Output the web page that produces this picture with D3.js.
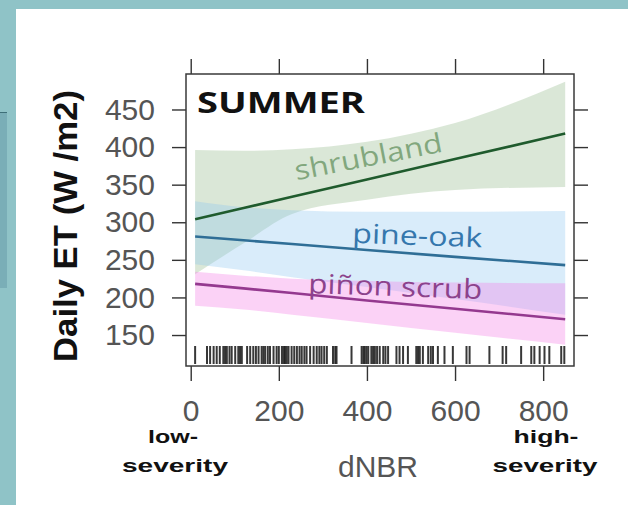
<!DOCTYPE html>
<html>
<head>
<meta charset="utf-8">
<script src="https://cdn.jsdelivr.net/npm/d3@7"></script>
<style>
  html, body { margin: 0; padding: 0; background: #8fc3c7; }
  svg { display: block; }
</style>
</head>
<body>
<svg id="chart" width="628" height="505"></svg>
<script>
// ---- data -------------------------------------------------------------
const seriesNames = ["shrubland", "pine-oak", "piñon scrub"];
const dnbrGrid    = [10, 120, 230, 400, 600, 850];

const shrubFit    = [304, 319, 334, 357, 384, 418];
const shrubUpper  = [396, 395, 397, 407, 432, 487];
const shrubLower  = [231, 272, 311, 330, 343, 347];

const pineFit     = [281, 276, 271, 263, 254, 243];
const pineUpper   = [328, 320, 316, 314, 314, 315];
const pineLower   = [244, 236, 227, 214, 198, 177];

const pinonFit    = [218, 212, 206, 196, 185, 171];
const pinonUpper  = [234, 229, 225, 222, 220, 219];
const pinonLower  = [189, 184, 177, 166, 153, 137];

const yTicks = [150, 200, 250, 300, 350, 400, 450];
const xTicks = [0, 200, 400, 600, 800];

// burn plots along the dNBR gradient (rug)
const rugValues = [10, 37, 44, 52, 59, 66, 74, 78, 82, 88, 93, 101, 108, 112, 116, 128, 135, 142,
  148, 154, 161, 165, 169, 175, 180, 188, 195, 200, 207, 211, 214, 218, 222, 229, 235, 241,
  247, 252, 258, 263, 271, 279, 286, 292, 297, 303, 309, 323, 328, 331, 365,
  388, 392, 395, 399, 403, 410, 414, 418, 423, 429, 437, 442, 448, 467, 474, 482, 493,
  512, 516, 520, 527, 539, 545, 550, 561, 576, 595, 626, 633, 678, 708, 716, 750,
  773, 780, 792, 803, 814, 841, 848];

// ---- layout -----------------------------------------------------------
const svg = d3.select("#chart");
const box = { left: 186, right: 574, top: 74, bottom: 366 };

// page backdrop
svg.append("rect").attr("width", 628).attr("height", 505).attr("fill", "#8fc3c7");
svg.append("rect").attr("x", 0).attr("y", 112).attr("width", 7).attr("height", 176).attr("fill", "#7aaeb7");
svg.append("line").attr("x1", 0).attr("x2", 7).attr("y1", 112.5).attr("y2", 112.5)
  .attr("stroke", "#3e6f78").attr("stroke-width", 1);
svg.append("rect").attr("x", 16).attr("y", 9).attr("width", 612).attr("height", 496).attr("fill", "#ffffff");

const x = d3.scaleLinear().domain([-10.7, 870]).range([box.left, box.right]);
const y = d3.scaleLinear().domain([108.8, 497.2]).range([box.bottom, box.top]);

svg.append("clipPath").attr("id", "plotClip")
  .append("rect").attr("x", box.left).attr("y", box.top)
  .attr("width", box.right - box.left).attr("height", box.bottom - box.top);

const plot = svg.append("g").attr("clip-path", "url(#plotClip)");

const series = [
  { name: seriesNames[0], fit: shrubFit, lo: shrubLower, hi: shrubUpper,
    band: "#9fbf96", op: 0.38, line: "#1f5b2d" },
  { name: seriesNames[1], fit: pineFit, lo: pineLower, hi: pineUpper,
    band: "#8cc6f0", op: 0.33, line: "#2f6e96" },
  { name: seriesNames[2], fit: pinonFit, lo: pinonLower, hi: pinonUpper,
    band: "#f27be6", op: 0.34, line: "#94398f" }
];

const area = d3.area().curve(d3.curveMonotoneX)
  .x(d => x(d.x)).y0(d => y(d.lo)).y1(d => y(d.hi));
const line = d3.line().x(d => x(d.x)).y(d => y(d.v));

// confidence bands
series.forEach(s => {
  const pts = dnbrGrid.map((v, i) => ({ x: v, lo: s.lo[i], hi: s.hi[i] }));
  plot.append("path").datum(pts).attr("d", area)
    .attr("fill", s.band).attr("fill-opacity", s.op);
});

// fitted lines
series.forEach(s => {
  const pts = dnbrGrid.map((v, i) => ({ x: v, v: s.fit[i] }));
  plot.append("path").datum(pts).attr("d", line)
    .attr("fill", "none").attr("stroke", s.line).attr("stroke-width", 2.6);
});

// rug
plot.selectAll("line.rug").data(rugValues).join("line").attr("class", "rug")
  .attr("x1", d => x(d)).attr("x2", d => x(d))
  .attr("y1", 346).attr("y2", 364)
  .attr("stroke", "#151515").attr("stroke-width", 2).attr("stroke-opacity", 0.85);

// ---- axes -------------------------------------------------------------
function styleAxis(g) {
  g.select(".domain").remove();
  g.selectAll(".tick line").attr("stroke", "#333").attr("stroke-width", 1.4);
  g.selectAll(".tick text").attr("fill", "#555")
    .style("font-family", "'Liberation Sans', Arial, sans-serif").style("font-size", "30px");
}

svg.append("g").attr("transform", `translate(${box.left},0)`)
  .call(d3.axisLeft(y).tickValues(yTicks).tickSize(14).tickPadding(17))
  .call(styleAxis);
svg.append("g").attr("transform", `translate(${box.right},0)`)
  .call(d3.axisRight(y).tickValues(yTicks).tickSize(14).tickFormat(""))
  .call(styleAxis);
svg.append("g").attr("transform", `translate(0,${box.bottom})`)
  .call(d3.axisBottom(x).tickValues(xTicks).tickSize(15).tickPadding(19))
  .call(styleAxis);
svg.append("g").attr("transform", `translate(0,${box.top})`)
  .call(d3.axisTop(x).tickValues(xTicks).tickSize(15).tickFormat(""))
  .call(styleAxis);

svg.append("rect").attr("x", box.left).attr("y", box.top)
  .attr("width", box.right - box.left).attr("height", box.bottom - box.top)
  .attr("fill", "none").attr("stroke", "#3a3a3a").attr("stroke-width", 1.5);

// ---- text -------------------------------------------------------------
function label(txt, px, py, opts) {
  const t = svg.append("text").text(txt)
    .attr("x", px).attr("y", py)
    .attr("text-anchor", opts.anchor || "middle")
    .attr("fill", opts.fill || "#111")
    .style("font-family", opts.family || "'Liberation Sans', Arial, sans-serif")
    .style("font-size", opts.size + "px")
    .style("font-weight", opts.weight || "normal");
  if (opts.len) t.attr("textLength", opts.len).attr("lengthAdjust", "spacingAndGlyphs");
  if (opts.rotate) t.attr("transform", `rotate(${opts.rotate},${px},${py})`);
  return t;
}

label("SUMMER", 197, 113, { anchor: "start", size: 29, weight: 700,
  family: "'Open Sans', sans-serif", len: 168, fill: "#111" });

label(seriesNames[0], 370, 166, { size: 27, family: "'Open Sans', sans-serif",
  fill: "#82a77e", len: 150, rotate: -11 });
label(seriesNames[1], 417, 245, { size: 27, family: "'Open Sans', sans-serif",
  fill: "#3577ad", len: 130, rotate: 2 });
label(seriesNames[2], 395, 296, { size: 27, family: "'Open Sans', sans-serif",
  fill: "#8c428c", len: 174, rotate: 2 });

label("Daily ET (W /m2)", 77, 226, { size: 33, weight: 700, fill: "#111",
  len: 272, rotate: -90 });

label("dNBR", 378, 477, { size: 29, fill: "#555", len: 80 });
label("low-", 173, 443, { size: 19, weight: 700, len: 50 });
label("severity", 175, 472, { size: 19, weight: 700, len: 106 });
label("high-", 546, 443, { size: 19, weight: 700, len: 65 });
label("severity", 545, 472, { size: 19, weight: 700, len: 105 });
</script>
</body>
</html>
